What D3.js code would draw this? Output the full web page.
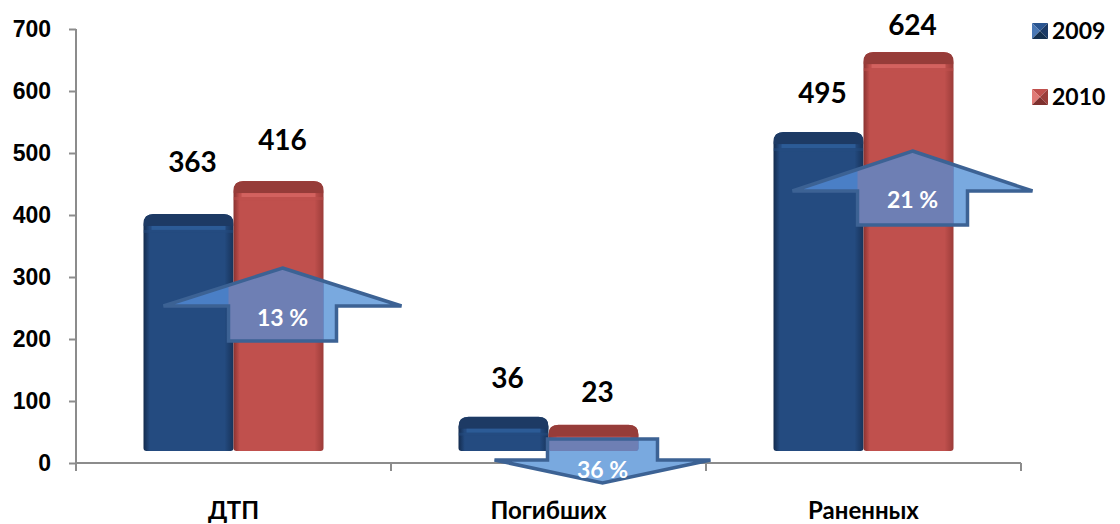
<!DOCTYPE html>
<html>
<head>
<meta charset="utf-8">
<script src="https://cdn.jsdelivr.net/npm/d3@7"></script>
<style>
  body { margin: 0; background: #fff; }
  svg { display: block; font-family: Lato, "Open Sans", sans-serif; font-weight: 700; }
</style>
</head>
<body>
<svg id="chart" width="1120" height="524"></svg>
<script>
// data
var categories = ["ДТП", "Погибших", "Раненных"];
var years = ["2009", "2010"];
var values2009 = [363, 36, 495];
var values2010 = [416, 23, 624];
var changeLabels = ["13 %", "36 %", "21 %"];
var changeDir = ["up", "down", "up"];
var yTicks = [0, 100, 200, 300, 400, 500, 600, 700];

// label nudges (px, baseline above bar top) - hand placed in original
var labelLift = [[42, 31], [29, 23], [29, 17]];

var svg = d3.select("#chart");
var plotLeft = 76, plotRight = 1021, plotTop = 29, plotBottom = 463;
var depth = 12;

var x = d3.scaleBand().domain(categories).range([plotLeft, plotRight]);
var xs = d3.scaleBand().domain(years).range([67.5, 247.5]);
var y = d3.scaleLinear().domain([0, 700]).range([plotBottom, plotTop]);

var colors = {
  "2009": {main: "#244b80", dark: "#17335a", edge: "#132b4e", cap: "#1d3a64", hi: "#3162a0"},
  "2010": {main: "#c0504d", dark: "#9c3c39", edge: "#8a3230", cap: "#963c39", hi: "#dc6a66"}
};

var defs = svg.append("defs");
years.forEach(function(yr) {
  var c = colors[yr];
  var g = defs.append("linearGradient").attr("id", "grad" + yr)
    .attr("x1", 0).attr("x2", 1).attr("y1", 0).attr("y2", 0);
  g.append("stop").attr("offset", 0).attr("stop-color", c.edge);
  g.append("stop").attr("offset", 0.07).attr("stop-color", c.main);
  g.append("stop").attr("offset", 0.9).attr("stop-color", c.main);
  g.append("stop").attr("offset", 1).attr("stop-color", c.dark);
});

// rows of bar data
var bars = [];
categories.forEach(function(cat, i) {
  bars.push({cat: cat, year: "2009", v: values2009[i], i: i, s: 0});
  bars.push({cat: cat, year: "2010", v: values2010[i], i: i, s: 1});
});

function barPath(d) {
  var x0 = x(d.cat) + xs(d.year), w = xs.bandwidth();
  var t = y(d.v) - 2 * depth, b = y(0) - depth;
  var r = Math.min(10, (b - t) / 2), rb = 3;
  return "M" + x0 + "," + (t + r) +
    "Q" + x0 + "," + t + " " + (x0 + r) + "," + t +
    "L" + (x0 + w - r) + "," + t +
    "Q" + (x0 + w) + "," + t + " " + (x0 + w) + "," + (t + r) +
    "L" + (x0 + w) + "," + (b - rb) +
    "Q" + (x0 + w) + "," + b + " " + (x0 + w - rb) + "," + b +
    "L" + (x0 + rb) + "," + b +
    "Q" + x0 + "," + b + " " + x0 + "," + (b - rb) + "Z";
}

// axes
var axisColor = "#8c8c8c";
var yAxis = svg.append("g").attr("transform", "translate(" + plotLeft + ",0)")
  .call(d3.axisLeft(y).tickValues(yTicks).tickSize(7).tickPadding(18));
yAxis.select(".domain").attr("stroke", axisColor).attr("stroke-width", 2).attr("d", "M0," + plotTop + "V" + plotBottom);
yAxis.selectAll(".tick line").attr("stroke", axisColor).attr("stroke-width", 2);
yAxis.selectAll(".tick text").attr("fill", "#000").style("font-size", "23px").style("font-weight", 700)
  .attr("font-family", null);

var xAxis = svg.append("g").attr("transform", "translate(0," + plotBottom + ")");
xAxis.append("line").attr("x1", plotLeft).attr("x2", plotRight).attr("stroke", axisColor).attr("stroke-width", 2);
xAxis.selectAll("line.tk").data(categories.map(function(c) { return x(c); }).concat([plotRight]))
  .enter().append("line").attr("class", "tk")
  .attr("x1", function(d) { return d; }).attr("x2", function(d) { return d; })
  .attr("y1", 0).attr("y2", 8).attr("stroke", axisColor).attr("stroke-width", 2);
xAxis.selectAll("text").data(categories).enter().append("text")
  .attr("x", function(d) { return x(d) + x.bandwidth() / 2; })
  .attr("y", 56).attr("text-anchor", "middle").style("font-size", "24px").text(function(d) { return d; });

// bars
var barG = svg.append("g");
var clipBars = defs.append("clipPath").attr("id", "clipBars");
bars.forEach(function(d) {
  var c = colors[d.year];
  var x0 = x(d.cat) + xs(d.year), w = xs.bandwidth();
  var t = y(d.v) - 2 * depth;
  var id = "bc" + d.i + d.s;
  defs.append("clipPath").attr("id", id).append("path").attr("d", barPath(d));
  clipBars.append("path").attr("d", barPath(d));
  var g = barG.append("g");
  g.append("path").attr("d", barPath(d)).attr("fill", "url(#grad" + d.year + ")");
  var cg = g.append("g").attr("clip-path", "url(#" + id + ")");
  cg.append("rect").attr("x", x0).attr("y", t).attr("width", w).attr("height", depth)
    .attr("fill", c.cap);
  cg.append("rect").attr("x", x0 + 8).attr("y", t + depth).attr("width", w - 16).attr("height", 4)
    .attr("fill", c.hi).attr("opacity", 0.7);
  cg.append("rect").attr("x", x0).attr("y", t + depth + 4).attr("width", w).attr("height", 3)
    .attr("fill", c.main).attr("opacity", 0.5);
});

// value labels
svg.append("g").selectAll("text").data(bars).enter().append("text")
  .attr("x", function(d) { return x(d.cat) + xs(d.year) + xs.bandwidth() / 2 + 4; })
  .attr("y", function(d) { return y(d.v) - 2 * depth - labelLift[d.i][d.s]; })
  .attr("text-anchor", "middle").style("font-size", "28px")
  .text(function(d) { return d.v; });

// change arrows, centred on the 2010 bar
function arrowPts(cx, dir, base, headH, shaftH, wing, half) {
  if (dir === "up") {
    var tip = base, wy = tip + headH, sb = wy + shaftH;
    return [[cx, tip], [cx + wing, wy], [cx + half, wy], [cx + half, sb],
            [cx - half, sb], [cx - half, wy], [cx - wing, wy]];
  }
  var st = base, wy2 = st + shaftH, tp = wy2 + headH;
  return [[cx - half, st], [cx + half, st], [cx + half, wy2], [cx + wing, wy2],
          [cx, tp], [cx - wing, wy2], [cx - half, wy2]];
}

var arrowLayout = [
  {dx: 4, base: 268, headH: 38, shaftH: 35, wing: 119, half: 54, ty: 326},
  {dx: 9, base: 439, headH: 23, shaftH: 21, wing: 108, half: 55, ty: 478},
  {dx: 4, base: 151, headH: 40, shaftH: 34, wing: 120, half: 55, ty: 208}
];

var arrowG = svg.append("g");
categories.forEach(function(cat, i) {
  var L = arrowLayout[i];
  var cx = x(cat) + xs("2010") + xs.bandwidth() / 2 + L.dx;
  var pts = arrowPts(cx, changeDir[i], L.base, L.headH, L.shaftH, L.wing, L.half);
  var line = d3.line();
  var cid = "col" + i;
  var ys = pts.map(function(p) { return p[1]; });
  defs.append("clipPath").attr("id", cid).append("rect")
    .attr("x", cx - L.half).attr("y", d3.min(ys)).attr("width", 2 * L.half).attr("height", d3.max(ys) - d3.min(ys));
  arrowG.append("path").attr("d", line(pts) + "Z").attr("fill", "#79a9df");
  var over = arrowG.append("g").attr("clip-path", "url(#clipBars)");
  over.append("path").attr("d", line(pts) + "Z").attr("fill", "#4a7fc6");
  over.append("g").attr("clip-path", "url(#" + cid + ")")
    .append("path").attr("d", line(pts) + "Z").attr("fill", "#6e7fb4");
  arrowG.append("path").attr("d", line(pts) + "Z").attr("fill", "none")
    .attr("stroke", "#3c6294").attr("stroke-width", 3.5).attr("stroke-linejoin", "miter");
  arrowG.append("text").attr("x", cx).attr("y", L.ty).attr("text-anchor", "middle")
    .attr("fill", "#fff").style("font-size", "23px").text(changeLabels[i]);
});

// legend
var legendColors = {
  "2009": ["#4a78b5", "#2a5590", "#1b3a66", "#14304f"],
  "2010": ["#e07a76", "#c0504d", "#9a3d3a", "#7e302e"]
};
var lg = svg.append("g");
years.forEach(function(yr, i) {
  var sx = 1032, sy = 23 + i * 66, s = 16, m = s / 2;
  var c = legendColors[yr];
  var g = lg.append("g").attr("transform", "translate(" + sx + "," + sy + ")");
  var tris = [
    [[0, 0], [s, 0], [m, m]],
    [[0, 0], [0, s], [m, m]],
    [[s, 0], [s, s], [m, m]],
    [[0, s], [s, s], [m, m]]
  ];
  tris.forEach(function(t, k) {
    g.append("path").attr("d", d3.line()(t) + "Z").attr("fill", c[k === 0 ? 1 : k === 1 ? 0 : k]);
  });
  lg.append("text").attr("x", 1052).attr("y", sy + 16).style("font-size", "23px").text(yr);
});
</script>
</body>
</html>
